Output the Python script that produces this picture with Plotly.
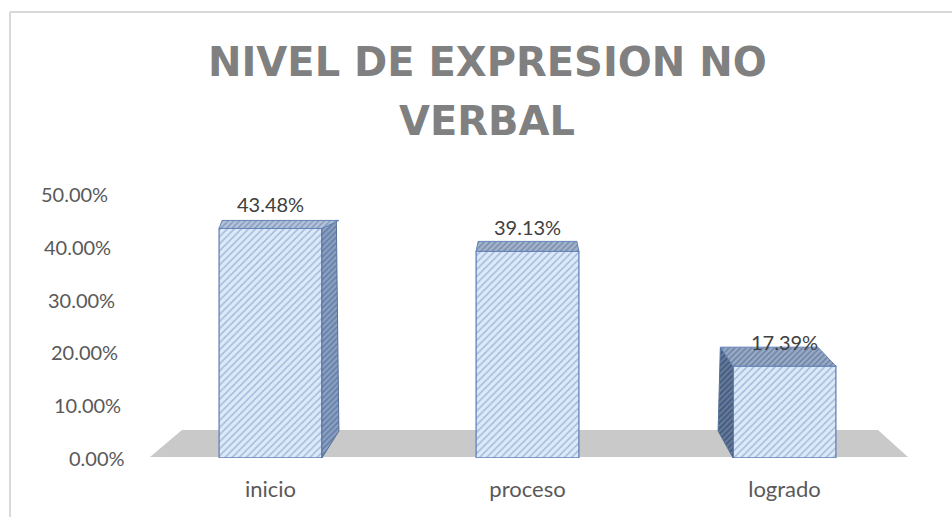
import plotly.graph_objects as go

# ---------------- data ----------------
categories = ["inicio", "proceso", "logrado"]
values = [0.4348, 0.3913, 0.1739]
y_ticks = [0.0, 0.1, 0.2, 0.3, 0.4, 0.5]
y_tick_labels = ["0.00%", "10.00%", "20.00%", "30.00%", "40.00%", "50.00%"]
title_lines = ["NIVEL DE EXPRESION NO", "VERBAL"]

# ---------------- geometry / style ----------------
W, H = 952, 517
ML, MR, MT, MB = 142, 39, 194, 59
PW = W - ML - MR          # plot width px
PH = H - MT - MB          # plot height px
X0, X1 = -0.5, 2.5
Y0, Y1 = 0.0, 0.5
PX_PER_X = PW / (X1 - X0)
PX_PER_Y = PH / (Y1 - Y0)
BAR_W = 0.4

def px2x(px):
    return (px - ML) / PW

def py2y(py):
    return (H - MB - py) / PH

def dx(p):   # pixel -> data x units
    return p / PX_PER_X

def dy(p):   # pixel -> data y units
    return p / PX_PER_Y

FONT = "Lato"
TXT = "#595959"

# perspective offsets per bar (pixels): side direction and depth
side_dx = [17, 0, -15]
top_dy = [8, 10, 19]
bottom_dy = [27, 0, 27]
side_colors = [("#8aa0c2", "#5f78a0"), None, ("#4a5f80", "#6f86a8")]
top_colors = [("#b4c3d9", "#8299bb"), ("#a3b3cb", "#7488aa"), ("#98aac4", "#687fa3")]

fig = go.Figure()

# front faces
fig.add_trace(go.Bar(
    x=list(range(len(categories))), y=values, width=BAR_W,
    marker=dict(
        color="#dde9f8",
        line=dict(color="#6283b8", width=1.3),
        pattern=dict(shape="/", bgcolor="#dde9f8", fgcolor="#a3bbdd",
                     size=5, solidity=0.3, fillmode="replace"),
    ),
    showlegend=False, hoverinfo="skip",
))

# side and top faces (3D look), derived from the values
for i, v in enumerate(values):
    c = i
    L, R = c - BAR_W / 2, c + BAR_W / 2
    sdx = dx(side_dx[i])
    tdy = dy(top_dy[i])
    if side_colors[i] is not None:
        edge = R if side_dx[i] > 0 else L
        xs = [edge, edge + sdx, edge + sdx * 0.85, edge, edge]
        ys = [0, dy(bottom_dy[i]), v + tdy, v, 0]
        bg, fg = side_colors[i]
        fig.add_trace(go.Scatter(
            x=xs, y=ys, mode="lines", fill="toself",
            fillcolor=bg, line=dict(color="#56709a", width=1),
            fillpattern=dict(shape="/", bgcolor=bg, fgcolor=fg, size=4,
                             solidity=0.35, fillmode="replace"),
            showlegend=False, hoverinfo="skip",
        ))
    # top face
    if side_dx[i] > 0:
        xs = [L, R, R + sdx, L + dx(3), L]
    elif side_dx[i] < 0:
        xs = [L, R, R + sdx * 1.2, L + sdx * 0.85, L]
    else:
        xs = [L, R, R - dx(2), L + dx(2), L]
    ys = [v, v, v + tdy, v + tdy, v]
    bg, fg = top_colors[i]
    fig.add_trace(go.Scatter(
        x=xs, y=ys, mode="lines", fill="toself",
        fillcolor=bg, line=dict(color="#6283b8", width=1),
        fillpattern=dict(shape="/", bgcolor=bg, fgcolor=fg, size=4,
                         solidity=0.35, fillmode="replace"),
        showlegend=False, hoverinfo="skip",
    ))

annotations = []
# data labels
for i, v in enumerate(values):
    annotations.append(dict(
        x=i, y=v, xref="x", yref="y", yshift=24,
        text=f"{v * 100:.2f}%", showarrow=False,
        font=dict(family=FONT, size=20, color="#404040"),
        xanchor="center", yanchor="middle",
    ))

# y tick labels (staggered by perspective)
tick_right_px = [127, 123, 120, 117, 113, 110]
for t, lab, rpx in zip(y_ticks, y_tick_labels, tick_right_px):
    annotations.append(dict(
        x=px2x(rpx), y=t, xref="paper", yref="y",
        text=lab, showarrow=False, xanchor="right", yanchor="middle",
        font=dict(family=FONT, size=20, color=TXT),
    ))

# title
for line, cy in zip(title_lines, [62, 121.5]):
    annotations.append(dict(
        x=px2x(487), y=py2y(cy), xref="paper", yref="paper",
        text=f"<b>{line}</b>", showarrow=False,
        xanchor="center", yanchor="middle",
        font=dict(family="DejaVu Sans", size=40, color="#808080"),
    ))

shapes = [
    # floor
    dict(type="path", xref="x", yref="y", layer="below",
         path=(f"M {X0 + dx(150 - ML)},{dy(1)} L {X0 + dx(908 - ML)},{dy(1)} "
               f"L {X0 + dx(878 - ML)},{dy(28)} L {X0 + dx(182 - ML)},{dy(28)} Z"),
         fillcolor="#c9c9c9", line=dict(width=0)),
    # frame
    dict(type="line", xref="paper", yref="paper",
         x0=px2x(10), x1=px2x(960), y0=py2y(12), y1=py2y(12),
         line=dict(color="#d9d9d9", width=2)),
    dict(type="line", xref="paper", yref="paper",
         x0=px2x(10), x1=px2x(10), y0=py2y(12), y1=py2y(530),
         line=dict(color="#d9d9d9", width=2)),
]

fig.update_layout(
    width=W, height=H, autosize=False,
    margin=dict(l=ML, r=MR, t=MT, b=MB, pad=0),
    paper_bgcolor="white", plot_bgcolor="white",
    showlegend=False,
    xaxis=dict(range=[X0, X1], tickvals=list(range(len(categories))),
               ticktext=categories, showgrid=False, zeroline=False,
               showline=False, ticks="", ticklabelstandoff=16,
               tickfont=dict(family=FONT, size=22, color=TXT),
               fixedrange=True),
    yaxis=dict(range=[Y0, Y1], showgrid=False, zeroline=False,
               showline=False, showticklabels=False, ticks="",
               fixedrange=True),
    annotations=annotations,
    shapes=shapes,
)

fig.write_html("out.html", config={"displayModeBar": False},
               post_script="document.body.style.margin='0';document.body.style.overflow='hidden';")
